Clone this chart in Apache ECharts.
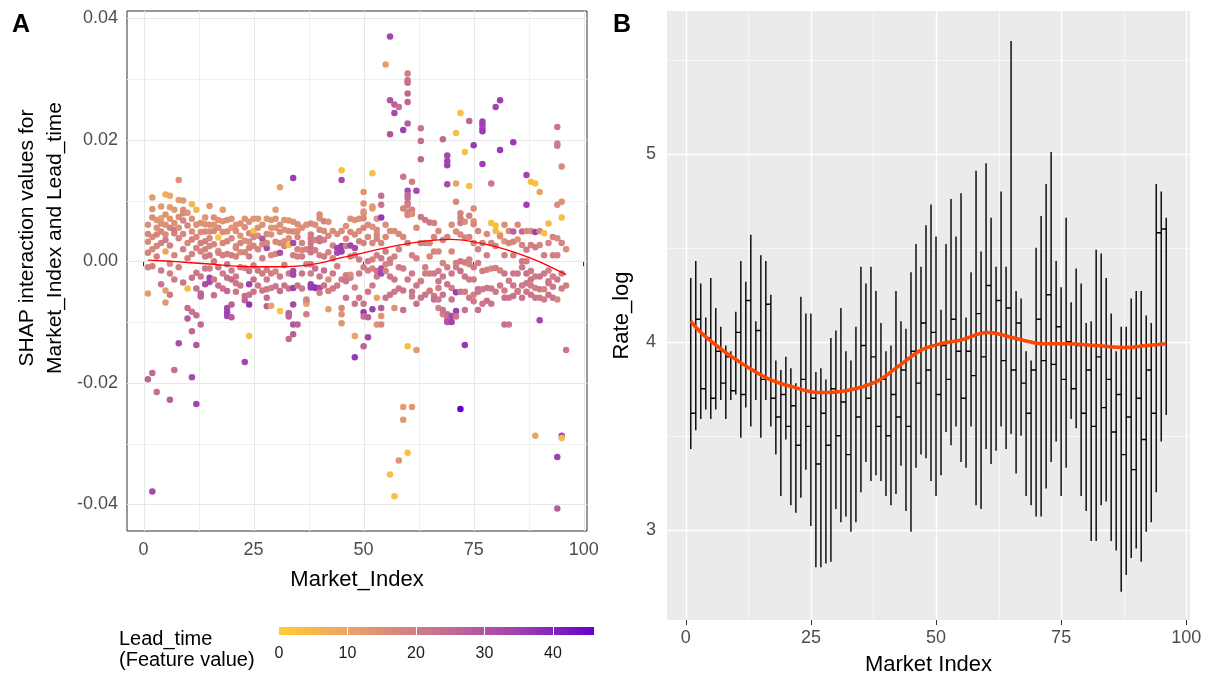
<!DOCTYPE html>
<html>
<head>
<meta charset="utf-8">
<script src="https://cdn.jsdelivr.net/npm/echarts@6/dist/echarts.min.js"></script>
<style>
  html, body { margin: 0; padding: 0; background: #ffffff; }
  #chart { width: 1207px; height: 677px; }
</style>
</head>
<body>
<div id="chart"></div>
<script>
// ---------- Panel A: SHAP interaction values ----------
const marketIndex = [
  1, 2, 3, 4, 5, 6, 7, 8, 9, 10, 11, 12, 13, 14, 15, 16, 17, 18, 19, 20,
  21, 22, 23, 24, 25, 26, 27, 28, 29, 30, 31, 32, 33, 34, 35, 36, 37, 38, 39, 40,
  41, 42, 43, 44, 45, 46, 47, 48, 49, 50, 51, 52, 53, 54, 55, 56, 57, 58, 59, 60,
  61, 62, 63, 64, 65, 66, 67, 68, 69, 70, 71, 72, 73, 74, 75, 76, 77, 78, 79, 80,
  81, 82, 83, 84, 85, 86, 87, 88, 89, 90, 91, 92, 93, 94, 95, 96
];

// SHAP interaction values, one row per market index
const shapByIndex = [
  [0.0032, 0.0014, -0.0053, -0.0194, 0.0060, 0.0045, -0.0010],
  [0.0105, 0.0086, 0.0072, -0.0184, -0.0379, 0.0020, 0.0040, -0.0008],
  [-0.0215, 0.0055, 0.0044, 0.0008, 0.0068, 0.0025],
  [0.0071, 0.0062, 0.0049, 0.0030, -0.0015, 0.0090, -0.0038],
  [0.0110, 0.0077, 0.0044, 0.0016, -0.0048, -0.0068, 0.0035, 0.0060],
  [0.0108, 0.0089, 0.0055, -0.0004, -0.0020, -0.0228, 0.0026, 0.0070, -0.0055],
  [0.0063, 0.0046, -0.0179, 0.0052, 0.0010, 0.0085, -0.0030],
  [0.0134, 0.0101, 0.0073, -0.0135, 0.0038, 0.0055, -0.0010],
  [0.0100, 0.0085, 0.0079, 0.0067, 0.0020, 0.0045, -0.0035],
  [-0.0045, -0.0077, -0.0094, 0.0059, 0.0005, 0.0080, 0.0030],
  [0.0094, 0.0049, 0.0036, -0.0027, -0.0115, -0.0191, -0.0083, 0.0070, 0.0012],
  [0.0085, 0.0022, -0.0019, -0.0138, -0.0235, -0.0089, 0.0040, 0.0060, -0.0045],
  [0.0063, -0.0053, -0.0058, -0.0104, 0.0016, 0.0030, 0.0048, -0.0025],
  [0.0061, 0.0049, 0.0033, -0.0038, 0.0008, -0.0012, 0.0072, 0.0020],
  [0.0091, 0.0049, 0.0025, 0.0010, -0.0027, -0.0034, 0.0060, 0.0038, -0.0012],
  [0.0060, 0.0050, 0.0000, -0.0056, 0.0028, 0.0072, -0.0030],
  [0.0039, 0.0017, 0.0014, -0.0010, 0.0055, 0.0068, -0.0040],
  [0.0085, 0.0066, -0.0020, 0.0030, 0.0010, 0.0048, -0.0045],
  [0.0049, 0.0033, -0.0005, -0.0027, -0.0077, -0.0090, -0.0084, -0.0049, 0.0068, 0.0012],
  [0.0055, -0.0071, -0.0092, 0.0010, -0.0030, 0.0038, 0.0070, -0.0015],
  [0.0025, 0.0022, 0.0008, -0.0025, -0.0036, 0.0050, 0.0060, -0.0050],
  [0.0042, 0.0015, -0.0010, 0.0030, 0.0062, -0.0040],
  [0.0034, -0.0057, -0.0064, -0.0166, -0.0011, 0.0056, 0.0070, 0.0015],
  [0.0032, 0.0022, 0.0008, -0.0038, -0.0071, -0.0123, -0.0016, 0.0046, 0.0065, -0.0055],
  [0.0070, 0.0050, -0.0007, -0.0030, 0.0025, 0.0040, -0.0050],
  [0.0070, 0.0020, -0.0015, 0.0042, 0.0055, -0.0040],
  [0.0037, -0.0048, 0.0005, 0.0028, 0.0060, -0.0020],
  [0.0070, 0.0022, -0.0046, -0.0060, -0.0074, -0.0014, 0.0045, 0.0030, -0.0030],
  [0.0044, -0.0044, -0.0073, 0.0010, 0.0055, 0.0068, -0.0020],
  [0.0085, 0.0055, -0.0041, -0.0017, 0.0032, 0.0070, 0.0012],
  [0.0122, 0.0014, 0.0048, -0.0082, -0.0049, 0.0060, 0.0030, -0.0025],
  [0.0025, 0.0033, -0.0006, 0.0052, 0.0068, -0.0040],
  [0.0027, 0.0038, 0.0067, -0.0085, -0.0087, -0.0128, -0.0091, -0.0020, 0.0050, -0.0045],
  [0.0137, 0.0049, 0.0030, -0.0044, -0.0071, -0.0104, -0.0120, -0.0022, -0.0016, 0.0065, 0.0010],
  [0.0061, 0.0020, 0.0008, -0.0104, 0.0040, 0.0050, -0.0040],
  [0.0018, 0.0008, -0.0020, 0.0030, 0.0055, -0.0045],
  [-0.0066, -0.0087, -0.0070, -0.0063, -0.0005, 0.0020, 0.0060],
  [0.0044, 0.0038, 0.0030, 0.0022, 0.0015, -0.0005, -0.0038, -0.0043, 0.0062, -0.0020],
  [-0.0044, -0.0043, -0.0012, 0.0018, 0.0060, 0.0035],
  [0.0077, 0.0071, 0.0038, 0.0033, -0.0044, -0.0052, -0.0025, 0.0052, 0.0010],
  [0.0066, -0.0015, 0.0008, 0.0035, 0.0050, -0.0040],
  [-0.0049, -0.0079, -0.0030, 0.0015, 0.0042, 0.0065],
  [0.0005, -0.0020, 0.0026, 0.0050, -0.0045],
  [0.0022, 0.0014, -0.0008, 0.0045, -0.0040],
  [0.0150, 0.0134, -0.0077, -0.0087, -0.0102, 0.0025, 0.0016, 0.0050, -0.0030],
  [0.0037, -0.0023, -0.0033, 0.0025, 0.0058, -0.0060],
  [0.0026, -0.0027, -0.0022, 0.0048, 0.0070, 0.0008],
  [0.0044, -0.0123, -0.0158, -0.0043, 0.0068, 0.0022, 0.0010, -0.0070],
  [0.0033, 0.0050, 0.0003, -0.0020, 0.0070, -0.0060],
  [0.0114, 0.0095, 0.0079, 0.0071, 0.0082, 0.0055, -0.0084, -0.0140, -0.0070, -0.0091, -0.0010, 0.0030],
  [-0.0125, -0.0092, 0.0000, -0.0015, 0.0040, 0.0060, -0.0050],
  [0.0145, -0.0079, 0.0087, 0.0090, 0.0057, -0.0012, 0.0003, 0.0030, -0.0040],
  [0.0052, 0.0044, 0.0037, -0.0025, -0.0060, -0.0104, -0.0016, 0.0070, 0.0010],
  [0.0108, 0.0093, 0.0072, -0.0077, -0.0090, -0.0104, -0.0020, -0.0012, 0.0005, 0.0030],
  [0.0324, 0.0016, -0.0016, -0.0005, 0.0060, -0.0060, 0.0040],
  [0.0370, 0.0265, 0.0209, -0.0351, -0.0003, -0.0025, 0.0003, 0.0050, -0.0055],
  [0.0258, 0.0244, -0.0077, -0.0387, -0.0030, 0.0008, 0.0050, -0.0050],
  [0.0254, -0.0328, -0.0010, 0.0045, -0.0045, 0.0020],
  [0.0216, 0.0139, 0.0087, -0.0012, -0.0048, -0.0240, -0.0261, 0.0040, -0.0080],
  [0.0309, 0.0298, 0.0294, 0.0276, 0.0262, 0.0227, 0.0116, 0.0109, 0.0104, 0.0096, 0.0093, 0.0082, -0.0140, -0.0315, 0.0076, 0.0030, -0.0030],
  [0.0131, 0.0085, 0.0078, -0.0050, -0.0058, -0.0240, 0.0010, -0.0020],
  [0.0116, -0.0146, 0.0005, 0.0055, -0.0040, -0.0070],
  [0.0219, 0.0198, 0.0168, 0.0073, -0.0032, -0.0033, 0.0030, -0.0060],
  [-0.0010, -0.0020, 0.0068, 0.0030, -0.0055],
  [0.0008, -0.0048, -0.0049, 0.0064, 0.0030, -0.0020],
  [0.0063, 0.0016, -0.0057, -0.0063, 0.0040, -0.0020],
  [0.0016, -0.0016, -0.0077, -0.0033, -0.0044, -0.0063, 0.0050],
  [0.0201, -0.0003, -0.0025, -0.0087, -0.0080, 0.0035, -0.0055],
  [0.0174, 0.0165, 0.0158, 0.0127, -0.0038, -0.0095, -0.0100, -0.0087, 0.0040, -0.0010],
  [0.0016, -0.0044, -0.0063, -0.0100, -0.0090, 0.0060, -0.0020],
  [0.0211, 0.0128, 0.0098, -0.0051, -0.0082, -0.0010, 0.0049, -0.0003, -0.0091],
  [0.0244, 0.0079, 0.0071, 0.0063, -0.0243, 0.0044, 0.0000, -0.0016, -0.0050],
  [0.0180, -0.0138, -0.0025, 0.0039, -0.0050, -0.0002, 0.0065, -0.0080],
  [0.0231, 0.0124, 0.0075, -0.0005, -0.0060, 0.0003, 0.0040, -0.0030],
  [0.0191, 0.0087, 0.0066, 0.0061, -0.0010, -0.0066, -0.0055, 0.0030, -0.0030],
  [-0.0046, -0.0050, -0.0003, 0.0050, 0.0020, -0.0080],
  [0.0230, 0.0225, 0.0219, 0.0214, 0.0160, -0.0016, -0.0046, 0.0030, -0.0070],
  [-0.0014, -0.0044, 0.0045, 0.0010, -0.0065],
  [0.0128, 0.0063, -0.0012, 0.0030, -0.0045, -0.0070],
  [0.0254, 0.0059, 0.0050, -0.0011, 0.0025, -0.0050],
  [0.0265, 0.0183, 0.0044, 0.0041, -0.0015, -0.0040],
  [0.0033, -0.0020, -0.0048, -0.0060, -0.0104, 0.0060, 0.0010],
  [-0.0104, -0.0032, 0.0030, 0.0050, -0.0060],
  [0.0196, 0.0032, -0.0040, -0.0057, 0.0049, 0.0010, -0.0020],
  [0.0036, -0.0050, -0.0049, 0.0060, -0.0020],
  [0.0027, 0.0000, -0.0010, 0.0049, -0.0040, -0.0060],
  [0.0142, 0.0093, 0.0019, -0.0020, -0.0036, 0.0000, 0.0050, -0.0050],
  [0.0131, -0.0040, -0.0030, -0.0016, 0.0027, 0.0050, -0.0055],
  [0.0128, 0.0048, -0.0287, -0.0044, 0.0023, -0.0025, -0.0060],
  [0.0114, -0.0097, -0.0046, -0.0025, 0.0027, 0.0050, -0.0060],
  [0.0046, -0.0063, -0.0046, 0.0010, -0.0020],
  [0.0062, -0.0036, -0.0015, -0.0033, 0.0030, -0.0055],
  [-0.0042, -0.0060, -0.0025, 0.0040, 0.0010],
  [0.0221, 0.0194, 0.0190, 0.0093, 0.0038, -0.0063, -0.0322, -0.0407, 0.0010, -0.0030],
  [0.0156, 0.0098, 0.0072, -0.0045, -0.0287, -0.0291, 0.0030, -0.0020],
  [-0.0146, 0.0020, -0.0040]
];

// Lead_time feature value for each point above (same layout)
const leadByIndex = [
  [16, 18, 12, 26, 15, 17, 19],
  [13, 14, 16, 25, 33, 17, 16, 20],
  [24, 15, 18, 19, 14, 18],
  [12, 15, 17, 19, 21, 13, 22],
  [7, 14, 16, 10, 12, 13, 20, 15],
  [9, 12, 18, 16, 20, 28, 19, 14, 21],
  [15, 19, 24, 21, 18, 13, 20],
  [14, 12, 16, 32, 18, 15, 19],
  [13, 15, 17, 18, 20, 17, 22],
  [4, 24, 28, 18, 19, 14, 17],
  [6, 16, 19, 22, 25, 33, 22, 15, 18],
  [5, 18, 22, 30, 34, 24, 17, 16, 23],
  [16, 26, 27, 25, 18, 20, 16, 21],
  [15, 17, 19, 31, 20, 21, 14, 18],
  [13, 16, 18, 21, 34, 33, 15, 17, 20],
  [14, 17, 20, 24, 18, 15, 21],
  [2, 15, 18, 22, 16, 14, 23],
  [12, 14, 20, 18, 19, 16, 22],
  [16, 18, 21, 23, 33, 34, 35, 25, 15, 19],
  [13, 27, 28, 19, 24, 17, 14, 20],
  [15, 17, 19, 21, 22, 16, 15, 22],
  [14, 16, 20, 18, 15, 21],
  [15, 24, 25, 34, 19, 16, 14, 18],
  [16, 18, 20, 35, 37, 3, 22, 17, 15, 23],
  [13, 3, 20, 23, 18, 17, 22],
  [14, 18, 21, 16, 15, 21],
  [30, 22, 19, 18, 15, 20],
  [13, 33, 21, 24, 26, 19, 17, 18, 21],
  [15, 20, 11, 17, 14, 14, 20],
  [12, 14, 22, 18, 17, 14, 18],
  [11, 32, 16, 2, 23, 15, 17, 21],
  [18, 16, 20, 15, 14, 22],
  [3, 15, 14, 25, 27, 24, 26, 21, 16, 22],
  [35, 17, 33, 35, 33, 29, 27, 34, 33, 15, 19],
  [16, 18, 19, 27, 17, 16, 22],
  [17, 20, 22, 18, 15, 21],
  [22, 20, 11, 18, 19, 18, 16],
  [20, 21, 22, 22, 22, 21, 35, 36, 17, 20],
  [35, 37, 23, 20, 16, 18],
  [16, 17, 22, 22, 33, 20, 21, 17, 19],
  [18, 24, 20, 19, 16, 22],
  [19, 12, 16, 19, 17, 15],
  [18, 21, 19, 16, 21],
  [34, 33, 20, 16, 21],
  [3, 33, 17, 15, 14, 36, 35, 16, 20],
  [18, 20, 22, 19, 15, 22],
  [34, 20, 16, 17, 15, 19],
  [17, 10, 36, 18, 14, 33, 19, 22],
  [19, 15, 20, 21, 15, 22],
  [14, 15, 16, 17, 14, 18, 36, 26, 22, 24, 20, 18],
  [33, 27, 21, 19, 17, 16, 22],
  [3, 35, 12, 13, 15, 18, 18, 17, 21],
  [16, 17, 18, 21, 10, 14, 22, 15, 19],
  [24, 22, 36, 28, 14, 18, 34, 32, 21, 18],
  [12, 20, 19, 19, 16, 22, 17],
  [34, 30, 30, 3, 18, 21, 20, 16, 22],
  [27, 33, 15, 3, 22, 19, 16, 21],
  [24, 14, 20, 17, 22, 19],
  [35, 22, 18, 20, 22, 12, 13, 17, 23],
  [20, 22, 23, 25, 26, 28, 33, 25, 24, 22, 20, 17, 3, 3, 18, 19, 21],
  [20, 19, 16, 22, 21, 13, 19, 21],
  [33, 13, 19, 17, 22, 23],
  [22, 24, 26, 21, 3, 20, 19, 22],
  [19, 20, 20, 19, 22],
  [17, 4, 21, 21, 18, 20],
  [19, 18, 22, 23, 18, 21],
  [17, 20, 18, 22, 20, 21, 17],
  [25, 18, 21, 19, 22, 18, 22],
  [33, 34, 35, 32, 22, 24, 30, 23, 18, 20],
  [17, 20, 22, 34, 33, 16, 21],
  [3, 11, 17, 36, 35, 20, 16, 19, 22],
  [3, 18, 19, 20, 46, 17, 21, 23, 22],
  [3, 36, 22, 18, 20, 20, 16, 23],
  [26, 3, 19, 18, 22, 19, 18, 21],
  [36, 16, 14, 17, 21, 20, 19, 18, 21],
  [24, 22, 20, 17, 19, 23],
  [34, 35, 34, 36, 35, 20, 21, 18, 22],
  [19, 22, 17, 19, 22],
  [22, 3, 18, 18, 21, 22],
  [34, 3, 4, 20, 18, 21],
  [35, 36, 3, 16, 18, 21],
  [14, 22, 20, 22, 23, 16, 19],
  [22, 20, 18, 17, 22],
  [36, 18, 21, 23, 27, 19, 21],
  [14, 20, 21, 16, 21],
  [18, 22, 21, 25, 21, 22],
  [34, 35, 20, 23, 21, 20, 17, 22],
  [3, 20, 22, 21, 19, 17, 22],
  [3, 35, 10, 19, 20, 20, 22],
  [10, 34, 21, 22, 18, 17, 21],
  [3, 20, 18, 19, 21],
  [4, 20, 19, 21, 18, 22],
  [21, 22, 20, 18, 19],
  [22, 20, 21, 16, 17, 18, 35, 28, 19, 21],
  [17, 15, 3, 20, 34, 4, 18, 20],
  [22, 16, 20]
];

// Smoothed trend of the SHAP interaction values
const trendIndexA = [1, 5, 10, 15, 20, 25, 30, 35, 40, 45, 50, 55, 60, 65, 70, 75, 80, 85, 90, 96];
const trendShapA = [0.0002, 0.00005, -0.0002, -0.00045, -0.00075, -0.0009, -0.0009, -0.0008, -0.0003, 0.0006,
                    0.0014, 0.0022, 0.0029, 0.0034, 0.0036, 0.0032, 0.0024, 0.0013, -0.0001, -0.0022];

// Lead_time colour scale and legend ticks
const leadColors = ['#FFCC33', '#E69F6B', '#C8718F', '#A143AF', '#6600CC'];
const leadLabelValues = [0, 10, 20, 30, 40];
const leadTickValues = [10, 20, 30, 40];
const leadMax = 46;

// ---------- Panel B: Rate_log by market ----------
const rateHigh = [
  4.34, 4.43, 4.31, 4.13, 4.34, 4.18, 4.08, 3.98, 3.95, 4.16,
  4.43, 4.32, 4.57, 4.11, 4.46, 4.43, 4.25, 3.90, 3.85, 3.92,
  3.86, 3.78, 4.24, 4.15, 4.15, 3.84, 3.86, 3.80, 4.02, 4.06,
  4.18, 3.95, 3.90, 4.08, 4.40, 4.31, 4.40, 4.27, 4.10, 3.95,
  3.98, 4.27, 4.11, 4.07, 4.37, 4.52, 4.40, 4.62, 4.73, 4.56,
  4.17, 4.52, 4.76, 4.56, 4.79, 4.13, 4.37, 4.91, 4.48, 4.95,
  4.66, 4.40, 4.80, 4.40, 5.60, 4.27, 4.23, 3.95, 3.90, 4.50,
  4.67, 4.84, 5.01, 4.43, 4.29, 4.66, 4.21, 4.39, 4.31, 4.10,
  4.11, 4.49, 4.47, 4.34, 4.15, 3.95, 4.08, 4.08, 4.23, 4.27,
  4.27, 4.14, 4.10, 4.84, 4.80, 4.66
];
const rateLow = [
  3.43, 3.53, 3.59, 3.64, 3.59, 3.64, 3.69, 3.59, 3.69, 3.72,
  3.49, 3.65, 3.55, 3.69, 3.49, 3.69, 3.55, 3.40, 3.18, 3.48,
  3.13, 3.09, 3.17, 3.32, 3.02, 2.80, 2.80, 2.82, 2.83, 3.11,
  3.04, 3.07, 2.99, 3.04, 3.20, 3.36, 3.26, 3.29, 3.26, 3.18,
  3.13, 3.19, 3.34, 3.10, 2.99, 3.33, 3.40, 3.38, 3.26, 3.18,
  3.29, 3.52, 3.45, 3.55, 3.36, 3.33, 3.55, 3.13, 3.11, 3.43,
  3.35, 3.42, 3.55, 3.43, 3.51, 3.30, 3.50, 3.18, 3.13, 3.07,
  3.07, 3.22, 3.36, 3.47, 3.18, 3.33, 3.59, 3.54, 3.18, 3.10,
  2.94, 2.94, 3.13, 3.15, 2.94, 2.89, 2.67, 2.76, 2.85, 2.90,
  2.83, 2.99, 3.04, 3.20, 3.47, 3.61
];
// Level at which the trace steps from one market to the next (95 steps)
const rateStep = [
  3.62, 4.12, 3.75, 4.02, 3.70, 3.95, 3.78, 3.92, 3.74, 4.05,
  3.72, 4.22, 3.85, 4.06, 3.80, 4.20, 3.70, 3.60, 3.72, 3.55,
  3.66, 3.45, 3.80, 3.55, 3.70, 3.35, 3.62, 3.45, 3.75, 3.50,
  3.68, 3.40, 3.75, 3.60, 3.98, 3.70, 3.92, 3.55, 3.80, 3.50,
  3.72, 3.60, 3.85, 3.55, 3.95, 3.78, 4.10, 3.85, 4.05, 3.72,
  3.98, 3.80, 4.12, 3.95, 3.70, 3.95, 3.82, 4.15, 3.92, 4.30,
  4.05, 4.22, 3.90, 4.18, 3.85, 4.10, 3.78, 3.62, 3.85, 4.12,
  3.90, 4.25, 3.88, 4.08, 3.80, 4.00, 3.75, 3.98, 3.62, 3.85,
  3.55, 3.92, 3.65, 3.80, 3.52, 3.72, 3.40, 3.60, 3.32, 3.70,
  3.48, 3.85, 3.62, 4.58, 4.60
];
// Smoothed Rate_log trend
const trendIndexB = [1, 3, 7.6, 11.5, 16.8, 21.4, 26.7, 32, 38.2, 42, 45, 47.3, 51, 55, 60.3, 65.6, 68.7, 71, 76, 82, 88, 92, 96];
const trendRateB = [4.11, 4.05, 3.95, 3.88, 3.80, 3.76, 3.73, 3.74, 3.79, 3.86, 3.92, 3.96, 3.99, 4.01, 4.05, 4.02, 4.00, 3.99, 3.99, 3.98, 3.97, 3.98, 3.99];

// ---------- Axis ticks and grid lines ----------
const indexTicks = [0, 25, 50, 75, 100];
const indexMinor = [12.5, 37.5, 62.5, 87.5];
const shapTicks = [-0.04, -0.02, 0, 0.02, 0.04];
const shapMinor = [-0.03, -0.01, 0.01, 0.03];
const rateTicks = [3, 4, 5];
const rateMinor = [3.5, 4.5, 5.5];

const FONT = '"Liberation Sans", Arial, Helvetica, sans-serif';

// Build series data from the arrays above
const shapPoints = [];
marketIndex.forEach((m, i) => {
  shapByIndex[i].forEach((v, j) => shapPoints.push([m, v, leadByIndex[i][j]]));
});
const trendA = trendIndexA.map((m, i) => [m, trendShapA[i]]);

// One vertical stroke per market (high to low), joined by short horizontal steps
const rateTrace = [];
marketIndex.forEach((m, i) => {
  if (i > 0) rateTrace.push([m, rateStep[i - 1]]);
  rateTrace.push([m, rateHigh[i]], [m, rateLow[i]]);
  if (i < rateStep.length) rateTrace.push([m, rateStep[i]]);
});
const trendB = trendIndexB.map((m, i) => [m, trendRateB[i]]);

// Grid lines drawn through the axis scales
function gridLineSeries(xi, yi, values, vertical, refValue, color, width, z) {
  return {
    type: 'custom',
    xAxisIndex: xi,
    yAxisIndex: yi,
    silent: true,
    z: z,
    data: values.map(v => vertical ? [v, refValue] : [refValue, v]),
    renderItem: function (params, api) {
      const cs = params.coordSys;
      const p = api.coord([api.value(0), api.value(1)]);
      let shape;
      if (vertical) {
        const x = Math.round(p[0]) + 0.5;
        shape = { x1: x, y1: cs.y, x2: x, y2: cs.y + cs.height };
      } else {
        const y = Math.round(p[1]) + 0.5;
        shape = { x1: cs.x, y1: y, x2: cs.x + cs.width, y2: y };
      }
      return { type: 'line', shape: shape, style: { stroke: color, lineWidth: width } };
    }
  };
}

const tickLabelStyle = { fontFamily: FONT, fontSize: 18, color: '#4D4D4D' };
const titleStyle = { fontFamily: FONT, fontSize: 22, color: '#000000' };

const chart = echarts.init(document.getElementById('chart'), null, { renderer: 'canvas' });

const option = {
  animation: false,
  backgroundColor: '#ffffff',
  textStyle: { fontFamily: FONT },
  grid: [
    { left: 127, top: 11, width: 460, height: 520, show: true, backgroundColor: '#ffffff',
      borderColor: '#333333', borderWidth: 1, containLabel: false, outerBoundsMode: 'none' },
    { left: 667, top: 11, width: 523, height: 609, show: true, backgroundColor: '#EBEBEB',
      borderWidth: 0, containLabel: false, outerBoundsMode: 'none' },
    { left: 279, top: 627, width: 315, height: 8, show: false, containLabel: false, outerBoundsMode: 'none' }
  ],
  xAxis: [
    { gridIndex: 0, type: 'value', min: -3.75, max: 100.75,
      axisLine: { show: false }, splitLine: { show: false },
      axisTick: { show: true, customValues: indexTicks, length: 5, lineStyle: { color: '#333333', width: 1 } },
      axisLabel: Object.assign({ customValues: indexTicks, margin: 10 }, tickLabelStyle),
      name: 'Market_Index', nameLocation: 'middle', nameGap: 38, nameTextStyle: titleStyle },
    { gridIndex: 1, type: 'value', min: -3.75, max: 100.75,
      axisLine: { show: false }, splitLine: { show: false },
      axisTick: { show: true, customValues: indexTicks, length: 5, lineStyle: { color: '#333333', width: 1 } },
      axisLabel: Object.assign({ customValues: indexTicks, margin: 9 }, tickLabelStyle),
      name: 'Market Index', nameLocation: 'middle', nameGap: 34, nameTextStyle: titleStyle },
    { gridIndex: 2, type: 'value', min: 0, max: leadMax, z: 10,
      axisLine: { show: false }, splitLine: { show: false },
      axisTick: { show: true, inside: true, customValues: leadTickValues, length: 8, lineStyle: { color: '#ffffff', width: 1 } },
      axisLabel: { customValues: leadLabelValues, margin: 11, fontFamily: FONT, fontSize: 16, color: '#1A1A1A' } }
  ],
  yAxis: [
    { gridIndex: 0, type: 'value', min: -0.0444, max: 0.0412,
      axisLine: { show: false }, splitLine: { show: false },
      axisTick: { show: true, customValues: shapTicks, length: 5, lineStyle: { color: '#333333', width: 1 } },
      axisLabel: Object.assign({ customValues: shapTicks, margin: 9, formatter: v => v.toFixed(2) }, tickLabelStyle) },
    { gridIndex: 1, type: 'value', min: 2.52, max: 5.76,
      axisLine: { show: false }, splitLine: { show: false },
      axisTick: { show: true, customValues: rateTicks, length: 5, lineStyle: { color: '#333333', width: 1 } },
      axisLabel: Object.assign({ customValues: rateTicks, margin: 11 }, tickLabelStyle),
      name: 'Rate_log', nameLocation: 'middle', nameGap: 34, nameTextStyle: titleStyle },
    { gridIndex: 2, type: 'value', min: 0, max: 1, show: false }
  ],
  visualMap: [
    { type: 'continuous', show: false, seriesIndex: 4, dimension: 2, min: 0, max: leadMax,
      inRange: { color: leadColors } }
  ],
  series: [
    gridLineSeries(0, 0, indexMinor, true, 0, '#F0F0F0', 1, 1),
    gridLineSeries(0, 0, shapMinor, false, 50, '#F0F0F0', 1, 1),
    gridLineSeries(0, 0, indexTicks, true, 0, '#E8E8E8', 1, 1),
    gridLineSeries(0, 0, shapTicks, false, 50, '#E8E8E8', 1, 1),
    {
      name: 'SHAP', type: 'scatter', xAxisIndex: 0, yAxisIndex: 0, z: 2,
      symbol: 'circle', symbolSize: 6.5, data: shapPoints,
      itemStyle: { opacity: 1 }
    },
    {
      name: 'trendA', type: 'line', xAxisIndex: 0, yAxisIndex: 0, z: 3,
      data: trendA, smooth: 0.4, showSymbol: false,
      lineStyle: { color: '#FF0000', width: 1.3 }
    },
    gridLineSeries(1, 1, indexMinor, true, 4, '#F7F7F7', 1, 1),
    gridLineSeries(1, 1, rateMinor, false, 50, '#F7F7F7', 1, 1),
    gridLineSeries(1, 1, indexTicks, true, 4, '#FFFFFF', 1.4, 1),
    gridLineSeries(1, 1, rateTicks, false, 50, '#FFFFFF', 1.4, 1),
    {
      name: 'Rate_log', type: 'line', xAxisIndex: 1, yAxisIndex: 1, z: 2,
      data: rateTrace, showSymbol: false,
      lineStyle: { color: '#000000', width: 1.4 }
    },
    {
      name: 'trendB', type: 'line', xAxisIndex: 1, yAxisIndex: 1, z: 3,
      data: trendB, smooth: 0.4, showSymbol: false,
      lineStyle: { color: '#FF4500', width: 3.5 }
    },
    {
      name: 'leadBar', type: 'custom', xAxisIndex: 2, yAxisIndex: 2, silent: true, z: 1,
      data: [[0, leadMax]],
      renderItem: function (params, api) {
        const p0 = api.coord([api.value(0), 0]);
        const p1 = api.coord([api.value(1), 1]);
        return {
          type: 'rect',
          shape: { x: p0[0], y: p1[1], width: p1[0] - p0[0], height: p0[1] - p1[1] },
          style: {
            fill: new echarts.graphic.LinearGradient(0, 0, 1, 0,
              leadColors.map((c, k) => ({ offset: k / (leadColors.length - 1), color: c })))
          }
        };
      }
    }
  ],
  graphic: [
    { type: 'text', left: 12, top: 13, style: { text: 'A', font: 'bold 25px ' + FONT, fill: '#000000' } },
    { type: 'text', left: 613, top: 13, style: { text: 'B', font: 'bold 25px ' + FONT, fill: '#000000' } },
    { type: 'text', x: 41, y: 238, rotation: Math.PI / 2,
      style: { text: 'SHAP interaction values for\nMarket_Index and Lead_time', font: '21px ' + FONT,
               fill: '#000000', align: 'center', verticalAlign: 'middle', lineHeight: 28 } },
    { type: 'text', left: 119, top: 629,
      style: { text: 'Lead_time\n(Feature value)', font: '20px ' + FONT, fill: '#000000', lineHeight: 21 } }
  ]
};

chart.setOption(option);
</script>
</body>
</html>
